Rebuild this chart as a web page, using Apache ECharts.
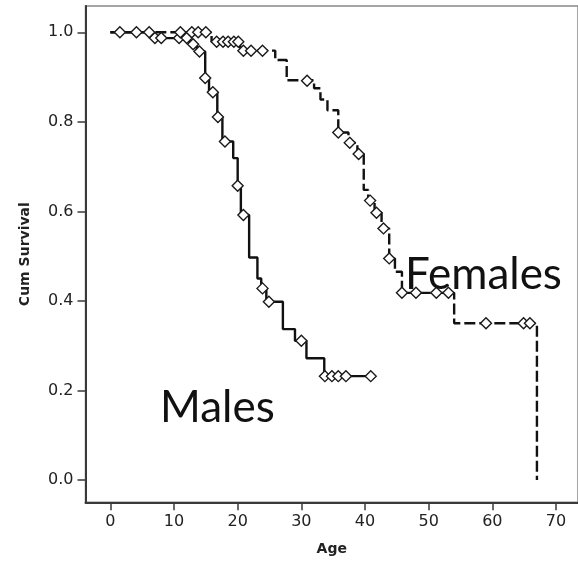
<!DOCTYPE html>
<html>
<head>
<meta charset="utf-8">
<script src="https://cdn.jsdelivr.net/npm/echarts@6/dist/echarts.min.js"></script>
<style>
  html, body { margin: 0; padding: 0; background: #ffffff; }
  #survival { width: 578px; height: 563px; }
</style>
</head>
<body>
<div id="survival"></div>
<script>
// tick labels
const ageTicks = [0, 10, 20, 30, 40, 50, 60, 70];
const survTicks = [0, 0.2, 0.4, 0.6, 0.8, 1.0];

// males: steps of the survival curve
const maleAge = [0, 6.5, 12.5, 13.6, 14.9, 15.5, 16.8, 17.6, 19.3, 20.0, 20.5, 21.8, 23.1, 23.7, 24.5, 27.1, 29.0, 30.8, 33.6, 40.9];
const maleSurv = [1.0, 0.987, 0.973, 0.957, 0.898, 0.866, 0.811, 0.756, 0.719, 0.657, 0.592, 0.497, 0.45, 0.428, 0.398, 0.337, 0.311, 0.272, 0.232, 0.232];
// males: censored
const maleCensAge = [1.5, 4.1, 7.0, 8.0, 10.8, 12.0, 13.0, 14.0, 14.9, 16.1, 16.9, 18.0, 20.0, 20.9, 23.9, 24.9, 30.0, 33.7, 34.8, 35.8, 37.0, 40.9];
const maleCensSurv = [1.0, 1.0, 0.987, 0.987, 0.987, 0.987, 0.973, 0.957, 0.898, 0.866, 0.811, 0.756, 0.657, 0.592, 0.428, 0.398, 0.311, 0.232, 0.232, 0.232, 0.232, 0.232];

// females: steps
const femAge = [0, 15.9, 20.4, 25.9, 27.7, 32.0, 33.0, 34.1, 35.8, 37.4, 38.8, 39.8, 40.5, 41.5, 42.6, 43.8, 44.7, 45.8, 54.0, 67.0];
const femSurv = [1.0, 0.979, 0.959, 0.938, 0.893, 0.875, 0.850, 0.826, 0.776, 0.753, 0.728, 0.648, 0.624, 0.597, 0.562, 0.495, 0.465, 0.418, 0.350, 0.0];
// females: censored
const femCensAge = [6.1, 11.0, 12.8, 13.8, 15.0, 16.7, 17.7, 18.5, 19.4, 20.1, 20.9, 22.1, 23.9, 30.9, 35.8, 37.6, 39.0, 40.8, 41.8, 42.9, 43.8, 45.8, 48.0, 51.2, 53.1, 59.0, 64.9, 65.9];
const femCensSurv = [1.0, 1.0, 1.0, 1.0, 1.0, 0.979, 0.979, 0.979, 0.979, 0.979, 0.959, 0.959, 0.959, 0.892, 0.776, 0.753, 0.728, 0.624, 0.597, 0.562, 0.495, 0.418, 0.418, 0.418, 0.418, 0.35, 0.35, 0.35];

const pairs = (xs, ys) => xs.map((x, i) => [x, ys[i]]);

const chart = echarts.init(document.getElementById("survival"));

const labelStyle = { color: "#222", fontFamily: "DejaVu Sans", fontSize: 16 };
const censStyle = { color: "#ffffff", borderColor: "#1a1a1a", borderWidth: 1.4, opacity: 1 };

const option = {
  animation: false,
  grid: {
    left: 85.5, right: 0, top: 6, bottom: 60.7,
    show: true, borderColor: "#888", borderWidth: 1.5
  },
  xAxis: {
    type: "value",
    min: -3.9, max: 73.45,
    name: "Age",
    nameLocation: "middle",
    nameGap: 40,
    nameTextStyle: { color: "#222", fontFamily: "DejaVu Sans", fontSize: 14, fontWeight: "bold" },
    axisLine: { show: true, onZero: false, lineStyle: { color: "#3a3a3a", width: 2 } },
    axisTick: { show: true, length: 8, customValues: ageTicks, lineStyle: { color: "#3a3a3a", width: 1.5 } },
    axisLabel: { customValues: ageTicks, margin: 12, ...labelStyle },
    splitLine: { show: false }
  },
  yAxis: {
    type: "value",
    min: -0.0498, max: 1.0587,
    name: "Cum Survival",
    nameLocation: "middle",
    nameRotate: 90,
    nameGap: 53,
    nameTextStyle: { color: "#222", fontFamily: "DejaVu Sans", fontSize: 14, fontWeight: "bold" },
    axisLine: { show: true, onZero: false, lineStyle: { color: "#3a3a3a", width: 2 } },
    axisTick: { show: true, length: 8, customValues: survTicks, lineStyle: { color: "#3a3a3a", width: 1.5 } },
    axisLabel: {
      customValues: survTicks, margin: 12, ...labelStyle,
      formatter: (v) => v.toFixed(1)
    },
    splitLine: { show: false }
  },
  series: [
    {
      name: "Males",
      type: "line",
      step: "end",
      showSymbol: false,
      lineStyle: { color: "#111", width: 2.4 },
      data: pairs(maleAge, maleSurv),
      z: 2
    },
    {
      name: "Females",
      type: "line",
      step: "end",
      showSymbol: false,
      lineStyle: { color: "#111", width: 2.4, type: [11, 4] },
      data: pairs(femAge, femSurv),
      z: 2
    },
    {
      name: "Males censored",
      type: "scatter",
      symbol: "diamond",
      symbolSize: 11,
      itemStyle: censStyle,
      data: pairs(maleCensAge, maleCensSurv),
      z: 3
    },
    {
      name: "Females censored",
      type: "scatter",
      symbol: "diamond",
      symbolSize: 11,
      itemStyle: censStyle,
      data: pairs(femCensAge, femCensSurv),
      z: 3
    }
  ],
  graphic: [
    {
      type: "text", left: 160, top: 386, z: 10,
      style: { text: "Males", fill: "#111", font: "44px Lato" }
    },
    {
      type: "text", left: 405, top: 253, z: 10,
      style: { text: "Females", fill: "#111", font: "44px Lato" }
    }
  ]
};

chart.setOption(option);
</script>
</body>
</html>
